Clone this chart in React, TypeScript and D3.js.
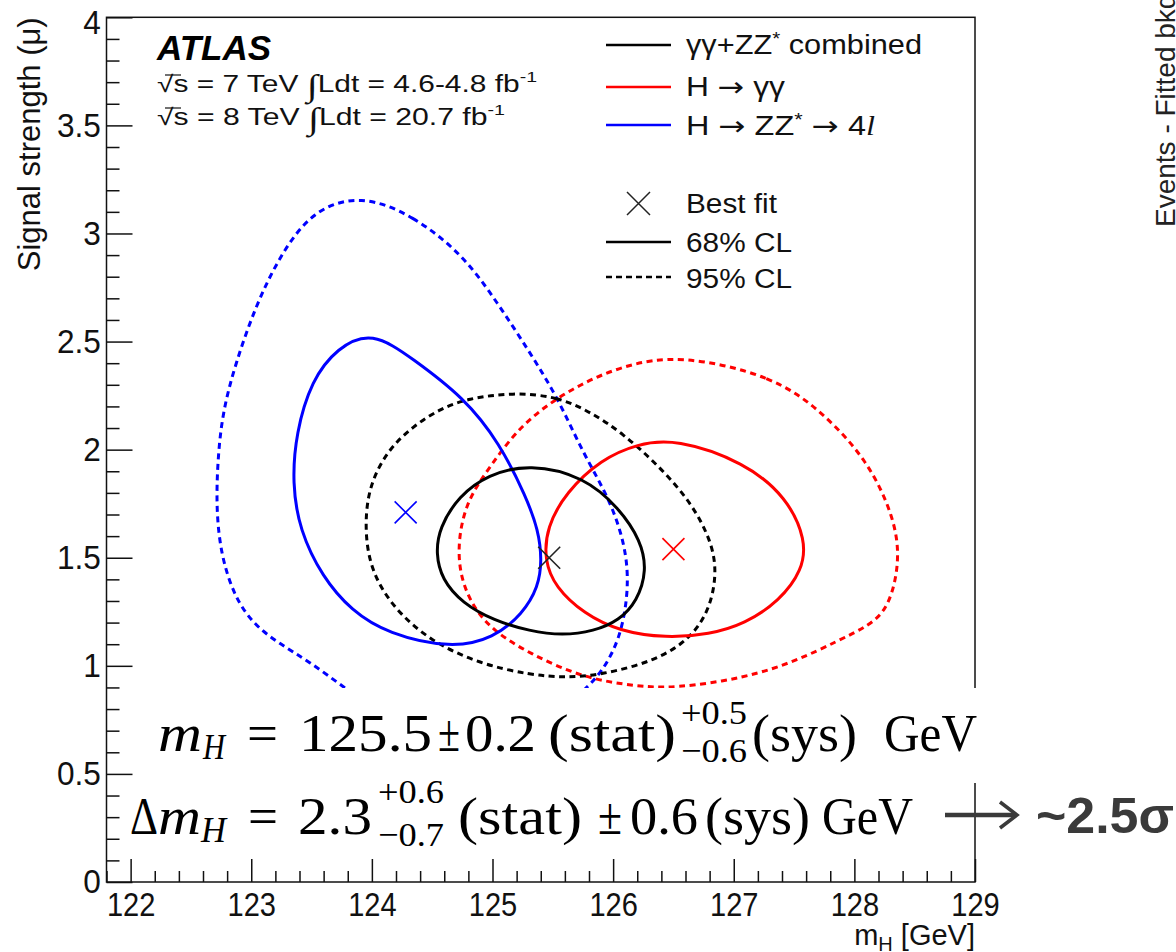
import React, { useRef, useEffect } from 'react';
import * as d3 from 'd3';

type Pt = [number, number];

const W = 1176;
const H = 952;

// axis ticks
const xTicks = [122, 123, 124, 125, 126, 127, 128, 129];
const yTicks = [0, 0.5, 1, 1.5, 2, 2.5, 3, 3.5, 4];

// contours: [mH (GeV), signal strength]
const combined68: Pt[] = [
  [125.31, 1.935], [125.76, 1.875], [126.05, 1.73], [126.23, 1.58], [126.28, 1.44],
  [126.20, 1.30], [126.05, 1.21], [125.84, 1.16], [125.58, 1.14], [125.31, 1.16],
  [125.01, 1.21], [124.75, 1.29], [124.58, 1.40], [124.53, 1.52], [124.56, 1.64],
  [124.72, 1.785], [124.96, 1.885]
];
const combined95: Pt[] = [
  [125.17, 2.265], [125.54, 2.245], [125.81, 2.175], [126.08, 2.076], [126.39, 1.919],
  [126.65, 1.753], [126.81, 1.582], [126.86, 1.443], [126.81, 1.272], [126.65, 1.128],
  [126.35, 1.022], [125.90, 0.958], [125.61, 0.945], [125.31, 0.958], [124.90, 1.008],
  [124.48, 1.115], [124.17, 1.272], [123.99, 1.443], [123.94, 1.628], [123.97, 1.827],
  [124.13, 1.998], [124.34, 2.108], [124.57, 2.19], [124.79, 2.236]
];
const gamgam68: Pt[] = [
  [126.52, 2.05], [127.09, 1.942], [127.44, 1.780], [127.60, 1.582], [127.57, 1.443],
  [127.38, 1.300], [127.09, 1.194], [126.80, 1.146], [126.44, 1.128], [126.05, 1.160],
  [125.76, 1.240], [125.52, 1.364], [125.43, 1.489], [125.45, 1.642], [125.61, 1.803],
  [125.90, 1.955], [126.20, 2.027]
];
const gamgam95: Pt[] = [
  [126.56, 2.44], [127.33, 2.34], [127.74, 2.172], [128.11, 1.951], [128.33, 1.688],
  [128.38, 1.489], [128.29, 1.27], [128.12, 1.185], [127.86, 1.115], [127.53, 1.025],
  [127.09, 0.942], [126.50, 0.896], [126.20, 0.905], [125.76, 0.942], [125.31, 1.055],
  [124.96, 1.176], [124.77, 1.336], [124.70, 1.521], [124.77, 1.753], [124.98, 1.922],
  [125.25, 2.128], [125.67, 2.29], [126.08, 2.39]
];
const fourl68: Pt[] = [
  [124.00, 2.55], [124.34, 2.42], [124.76, 2.243], [125.06, 2.030], [125.28, 1.780],
  [125.38, 1.628], [125.41, 1.489], [125.38, 1.364], [125.25, 1.240], [125.01, 1.128],
  [124.66, 1.080], [124.13, 1.148], [123.83, 1.255], [123.59, 1.410], [123.40, 1.628],
  [123.34, 1.845], [123.37, 2.076], [123.50, 2.321], [123.71, 2.47]
];
// lower part is hidden behind the mass box
const fourl95: Pt[] = [
  [123.91, 3.18], [124.34, 3.085], [124.76, 2.90], [125.04, 2.68], [125.31, 2.45],
  [125.54, 2.24], [125.73, 2.01], [125.86, 1.88], [125.98, 1.75], [126.07, 1.61],
  [126.12, 1.47], [126.12, 1.32], [126.06, 1.13], [125.91, 0.97], [125.73, 0.87],
  [125.56, 0.80], [125.15, 0.72], [124.57, 0.70], [124.07, 0.78], [123.77, 0.90],
  [123.48, 1.02], [123.24, 1.10], [123.02, 1.19], [122.86, 1.32], [122.75, 1.51],
  [122.71, 1.72], [122.72, 1.94], [122.76, 2.17], [122.87, 2.40], [123.04, 2.67],
  [123.24, 2.90], [123.51, 3.11]
];

const bestFitCombined: Pt = [125.47, 1.50];
const bestFitGamGam: Pt = [126.50, 1.54];
const bestFit4l: Pt = [124.28, 1.71];

const BLUE = '#0000ff';
const RED = '#ff0000';
const BLACK = '#000000';

const contours = [
  { pts: fourl95, color: BLUE, dashed: true },
  { pts: gamgam95, color: RED, dashed: true },
  { pts: combined95, color: BLACK, dashed: true },
  { pts: fourl68, color: BLUE, dashed: false },
  { pts: gamgam68, color: RED, dashed: false },
  { pts: combined68, color: BLACK, dashed: false }
];
const bestFits = [
  { pt: bestFit4l, color: BLUE },
  { pt: bestFitGamGam, color: RED },
  { pt: bestFitCombined, color: '#222' }
];

const SANS = '"Liberation Sans", Arial, Helvetica, sans-serif';
const SERIF = '"Liberation Serif", "Times New Roman", serif';
const ARROW = '"DejaVu Sans", sans-serif';

export default function App() {
  const ref = useRef<SVGSVGElement>(null);

  useEffect(() => {
    if (!ref.current) return;
    const svg = d3.select(ref.current);
    svg.selectAll('*').remove();

    const left = 106.5, right = 975, top = 17.3, bottom = 882;
    const x = d3.scaleLinear().domain([121.8, 129]).range([left, right]);
    const y = d3.scaleLinear().domain([0, 4]).range([bottom, top]);

    svg.append('rect').attr('width', W).attr('height', H).attr('fill', '#fff');

    svg.append('clipPath').attr('id', 'frame-clip')
      .append('rect').attr('x', left).attr('y', top)
      .attr('width', right - left).attr('height', bottom - top);

    // contours
    const line = d3.line<Pt>()
      .x(d => x(d[0]))
      .y(d => y(d[1]))
      .curve(d3.curveBasisClosed);

    const cg = svg.append('g').attr('clip-path', 'url(#frame-clip)');
    contours.forEach(c => {
      cg.append('path')
        .attr('d', line(c.pts))
        .attr('fill', 'none')
        .attr('stroke', c.color)
        .attr('stroke-width', 3)
        .attr('stroke-dasharray', c.dashed ? '6,4.5' : null);
    });

    bestFits.forEach(b => {
      const cx = x(b.pt[0]), cy = y(b.pt[1]), s = 11;
      cg.append('path')
        .attr('d', `M${cx - s},${cy - s}L${cx + s},${cy + s}M${cx - s},${cy + s}L${cx + s},${cy - s}`)
        .attr('stroke', b.color)
        .attr('stroke-width', 1.6)
        .attr('fill', 'none');
    });

    // frame
    svg.append('rect')
      .attr('x', left).attr('y', top)
      .attr('width', right - left).attr('height', bottom - top)
      .attr('fill', 'none').attr('stroke', '#111').attr('stroke-width', 1.5);

    // white boxes behind the mass results
    svg.append('rect').attr('x', 138).attr('y', 688).attr('width', 850).attr('height', 95).attr('fill', '#fff');
    svg.append('rect').attr('x', 125).attr('y', 783).attr('width', 830).attr('height', 74).attr('fill', '#fff');

    // axes
    const minorY = d3.range(0, 41).map(i => i / 10).filter(v => Math.abs(v * 2 - Math.round(v * 2)) > 1e-6);
    const minorX = d3.range(0, 37).map(i => 121.8 + i * 0.2).filter(v => Math.abs(v - Math.round(v)) > 1e-6);

    const yAxis = svg.append('g')
      .attr('transform', `translate(${left},0)`)
      .call(d3.axisLeft(y).tickValues(yTicks).tickSize(-26).tickPadding(6).tickFormat(d => String(d)));
    svg.append('g')
      .attr('transform', `translate(${left},0)`)
      .call(d3.axisLeft(y).tickValues(minorY).tickSize(-13).tickFormat(() => ''));

    const xAxis = svg.append('g')
      .attr('transform', `translate(0,${bottom})`)
      .call(d3.axisBottom(x).tickValues(xTicks).tickSize(-23).tickPadding(11).tickFormat(d => String(d)));
    svg.append('g')
      .attr('transform', `translate(0,${bottom})`)
      .call(d3.axisBottom(x).tickValues(minorX).tickSize(-11).tickFormat(() => ''));

    svg.selectAll('.domain').remove();
    svg.selectAll('.tick line').attr('stroke', '#111').attr('stroke-width', 1.5);
    yAxis.selectAll('text')
      .attr('font-family', SANS).attr('font-size', 34).attr('fill', '#111')
      .attr('transform', (d: any) => (d === 4 ? 'translate(0,5) scale(0.93,1)' : 'scale(0.93,1)'));
    xAxis.selectAll('text')
      .attr('font-family', SANS).attr('font-size', 33).attr('fill', '#111')
      .attr('transform', 'scale(0.88,1)');

    // axis titles
    svg.append('text')
      .attr('transform', `translate(40,${top}) rotate(-90)`)
      .attr('text-anchor', 'end')
      .attr('font-family', SANS).attr('font-size', 31).attr('fill', '#111')
      .text('Signal strength (μ)');

    const xt = svg.append('text')
      .attr('x', right).attr('y', 945)
      .attr('text-anchor', 'end')
      .attr('font-family', SANS).attr('font-size', 29).attr('fill', '#111');
    xt.append('tspan').text('m');
    xt.append('tspan').attr('font-size', 20).attr('dy', 6).text('H');
    xt.append('tspan').attr('dy', -6).text(' [GeV]');

    // ATLAS label
    svg.append('text')
      .attr('x', 157).attr('y', 60)
      .attr('font-family', SANS).attr('font-size', 35)
      .attr('font-weight', 'bold').attr('font-style', 'italic')
      .text('ATLAS');

    const energyLines = [
      { y: 92, e: '7', lumi: '4.6-4.8', w: 380 },
      { y: 125, e: '8', lumi: '20.7', w: 348 }
    ];
    energyLines.forEach(l => {
      const t = svg.append('text')
        .attr('x', 157).attr('y', l.y)
        .attr('font-family', SANS).attr('font-size', 23).attr('fill', '#111')
        .attr('textLength', l.w).attr('lengthAdjust', 'spacingAndGlyphs');
      t.append('tspan').text('√s = ' + l.e + ' TeV ');
      t.append('tspan').attr('font-size', 31).attr('font-family', SERIF).attr('dy', 4).text('∫');
      t.append('tspan').attr('dy', -4).text('Ldt = ' + l.lumi + ' fb');
      t.append('tspan').attr('font-size', 15).attr('dy', -10).text('-1');
      svg.append('line')
        .attr('x1', 165).attr('x2', 181).attr('y1', l.y - 17).attr('y2', l.y - 17)
        .attr('stroke', '#111').attr('stroke-width', 1.2);
    });

    // legend
    const lg = svg.append('g').attr('font-family', SANS).attr('font-size', 27).attr('fill', '#111');
    const legendRows = [
      { y: 45, color: BLACK },
      { y: 87, color: RED },
      { y: 125, color: BLUE }
    ];
    legendRows.forEach(r => {
      lg.append('line').attr('x1', 606).attr('x2', 671).attr('y1', r.y).attr('y2', r.y)
        .attr('stroke', r.color).attr('stroke-width', 2.5);
    });
    const t1 = lg.append('text').attr('x', 686).attr('y', 54)
      .attr('textLength', 236).attr('lengthAdjust', 'spacingAndGlyphs');
    t1.append('tspan').text('γγ+ZZ');
    t1.append('tspan').attr('font-size', 18).attr('dy', -9).text('*');
    t1.append('tspan').attr('dy', 9).text(' combined');
    const t2 = lg.append('text').attr('x', 686).attr('y', 96)
      .attr('textLength', 99).attr('lengthAdjust', 'spacingAndGlyphs');
    t2.append('tspan').text('H ');
    t2.append('tspan').attr('font-family', ARROW).text('→');
    t2.append('tspan').text(' γγ');
    const t3 = lg.append('text').attr('x', 686).attr('y', 135)
      .attr('textLength', 189).attr('lengthAdjust', 'spacingAndGlyphs');
    t3.append('tspan').text('H ');
    t3.append('tspan').attr('font-family', ARROW).text('→');
    t3.append('tspan').text(' ZZ');
    t3.append('tspan').attr('font-size', 18).attr('dy', -9).text('*');
    t3.append('tspan').attr('dy', 9).text(' ');
    t3.append('tspan').attr('font-family', ARROW).text('→');
    t3.append('tspan').text(' 4');
    t3.append('tspan').attr('font-style', 'italic').attr('font-family', SERIF).text('l');

    lg.append('path')
      .attr('d', 'M627,192L650,215M627,215L650,192')
      .attr('stroke', '#222').attr('stroke-width', 1.5);
    lg.append('text').attr('x', 686).attr('y', 213)
      .attr('textLength', 91).attr('lengthAdjust', 'spacingAndGlyphs').text('Best fit');
    lg.append('line').attr('x1', 606).attr('x2', 671).attr('y1', 242).attr('y2', 242)
      .attr('stroke', BLACK).attr('stroke-width', 2.5);
    lg.append('text').attr('x', 686).attr('y', 252)
      .attr('textLength', 106).attr('lengthAdjust', 'spacingAndGlyphs').text('68% CL');
    lg.append('line').attr('x1', 606).attr('x2', 671).attr('y1', 277).attr('y2', 277)
      .attr('stroke', BLACK).attr('stroke-width', 2.5).attr('stroke-dasharray', '6,4');
    lg.append('text').attr('x', 686).attr('y', 288)
      .attr('textLength', 106).attr('lengthAdjust', 'spacingAndGlyphs').text('95% CL');

    // mass results
    const fg = svg.append('g').attr('font-family', SERIF).attr('fill', '#000');
    const piece = (txt: string, px: number, py: number, w: number, size: number, italic = false) => {
      fg.append('text')
        .attr('x', px).attr('y', py)
        .attr('font-size', size)
        .attr('font-style', italic ? 'italic' : 'normal')
        .attr('textLength', w).attr('lengthAdjust', 'spacingAndGlyphs')
        .text(txt);
    };
    // line 1
    piece('m', 158, 751, 44, 52, true);
    piece('H', 203, 759, 22, 36, true);
    piece('=', 247, 751, 31, 52);
    piece('125.5', 299, 751, 133, 52);
    piece('±', 438, 751, 22, 52);
    piece('0.2', 465, 751, 71, 52);
    piece('(stat)', 548, 751, 128, 52);
    piece('+0.5', 681, 724, 66, 34);
    piece('−0.6', 681, 762, 66, 34);
    piece('(sys)', 752, 751, 105, 52);
    piece('GeV', 884, 751, 93, 52);
    // line 2
    piece('Δ', 130, 834, 28, 52);
    piece('m', 158, 834, 43, 52, true);
    piece('H', 201, 842, 25, 36, true);
    piece('=', 248, 834, 30, 52);
    piece('2.3', 298, 834, 74, 52);
    piece('+0.6', 378, 803, 66, 34);
    piece('−0.7', 378, 846, 66, 34);
    piece('(stat)', 458, 834, 124, 52);
    piece('±', 598, 834, 24, 52);
    piece('0.6', 630, 834, 68, 52);
    piece('(sys)', 705, 834, 105, 52);
    piece('GeV', 822, 834, 91, 52);

    // significance arrow
    svg.append('line').attr('x1', 945).attr('x2', 1015).attr('y1', 815).attr('y2', 815)
      .attr('stroke', '#3a3a3a').attr('stroke-width', 4.5);
    svg.append('path').attr('d', 'M1000,802L1017,815L1000,828')
      .attr('fill', 'none').attr('stroke', '#3a3a3a').attr('stroke-width', 3.5);
    svg.append('text')
      .attr('x', 1036).attr('y', 833)
      .attr('font-family', SANS).attr('font-weight', 'bold').attr('font-size', 50)
      .attr('fill', '#3a3a3a')
      .attr('textLength', 138).attr('lengthAdjust', 'spacingAndGlyphs')
      .text('~2.5σ');

    // neighbouring plot's axis title, cut by the page edge
    svg.append('text')
      .attr('transform', 'translate(1175,227) rotate(-90)')
      .attr('font-family', SANS).attr('font-size', 28).attr('fill', '#222')
      .text('Events - Fitted bkg');
  }, []);

  return (
    <svg
      ref={ref}
      width={W}
      height={H}
      viewBox={`0 0 ${W} ${H}`}
      style={{ position: 'absolute', left: 0, top: 0, display: 'block' }}
    />
  );
}
